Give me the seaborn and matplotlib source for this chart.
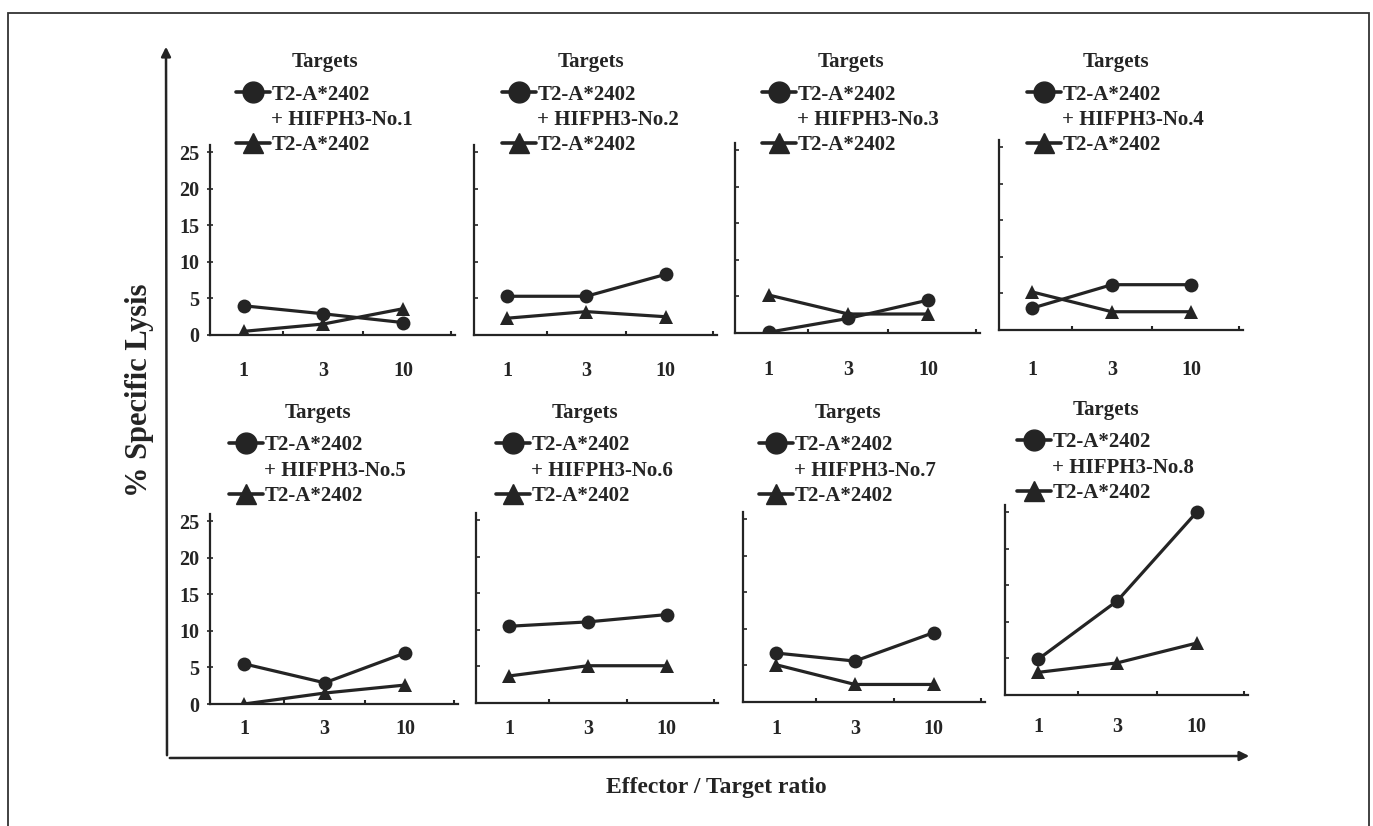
import matplotlib
matplotlib.use("Agg")
import matplotlib.pyplot as plt
from matplotlib.lines import Line2D
from matplotlib.patches import Rectangle, FancyArrowPatch
import seaborn as sns
import pandas as pd

sns.set_theme(style="white")
plt.rcParams['font.family'] = ['Liberation Serif', 'DejaVu Serif']
plt.rcParams['font.weight'] = 'bold'

# ---------------- data ----------------
ratios = ["1", "3", "10"]
peptides = ["HIFPH3-No.1", "HIFPH3-No.2", "HIFPH3-No.3", "HIFPH3-No.4",
            "HIFPH3-No.5", "HIFPH3-No.6", "HIFPH3-No.7", "HIFPH3-No.8"]
pulsed = [
    [4.0, 2.9, 1.7],
    [5.3, 5.3, 8.3],
    [0.1, 2.0, 4.5],
    [3.0, 6.2, 6.2],
    [5.5, 2.9, 7.0],
    [10.5, 11.1, 12.1],
    [6.7, 5.6, 9.5],
    [4.9, 12.9, 25.0],
]
unpulsed = [
    [0.5, 1.5, 3.6],
    [2.3, 3.2, 2.5],
    [5.2, 2.6, 2.6],
    [5.2, 2.5, 2.5],
    [0.0, 1.5, 2.6],
    [3.7, 5.1, 5.1],
    [5.1, 2.4, 2.4],
    [3.1, 4.4, 7.1],
]
yticks = [0, 5, 10, 15, 20, 25]
legend_title = "Targets"
cell_label = "T2-A*2402"
ylabel = "% Specific Lysis"
xlabel = "Effector / Target ratio"

# ---------------- layout (pixels) ----------------
W, H = 1373, 826
fig = plt.figure(figsize=(W / 100, H / 100), dpi=100)
fig.patch.set_facecolor("white")

def fx(x):
    return x / W

def fy(y):
    return 1 - y / H

# (left, right, baseline) of each panel
panels_px = [
    (210, 455, 335), (474, 717, 335), (735, 980, 333), (999, 1243, 330),
    (210, 458, 704), (476, 718, 703), (743, 985, 702), (1005, 1248, 695),
]
xlab_pad = [18.5, 18.5, 19.5, 21.5, 11, 11.5, 12, 15.5]
legend_px = [
    (236, 52), (502, 52), (762, 52), (1027, 52),
    (229, 403), (496, 403), (759, 403), (1017, 400),
]
plot_h = 190
ink = "#242424"
tick_fs = 14.5
leg_fs = 15

for i in range(8):
    l, r, b = panels_px[i]
    ax = fig.add_axes([fx(l), fy(b), fx(r - l), plot_h / H])
    ax.set_facecolor("none")
    df = pd.DataFrame({
        "ratio": ratios * 2,
        "lysis": pulsed[i] + unpulsed[i],
        "target": ["pulsed"] * 3 + ["unpulsed"] * 3,
    })
    sns.lineplot(data=df, x="ratio", y="lysis", hue="target", style="target",
                 markers={"pulsed": "o", "unpulsed": "^"},
                 dashes={"pulsed": "", "unpulsed": ""},
                 palette={"pulsed": ink, "unpulsed": ink},
                 markersize=10, linewidth=2.3, markeredgewidth=0,
                 sort=False, legend=False, ax=ax)
    ax.set_xlim(-0.42, 2.65)
    ax.set_ylim(0, 26)
    ax.set_xlabel("")
    ax.set_ylabel("")
    for s in ["top", "right"]:
        ax.spines[s].set_visible(False)
    for s in ["left", "bottom"]:
        ax.spines[s].set_color(ink)
        ax.spines[s].set_linewidth(1.6)
    ax.set_xticks([0, 1, 2])
    ax.set_xticklabels(ratios)
    ax.set_xticks([0.5, 1.5, 2.6], minor=True)
    ax.tick_params(axis="x", which="major", length=0, pad=xlab_pad[i],
                   labelsize=tick_fs, colors=ink)
    ax.tick_params(axis="x", which="minor", length=3, direction="in",
                   width=1.5, colors=ink, bottom=True)
    ax.set_yticks(yticks)
    if i in (0, 4):
        ax.set_yticklabels([str(t) for t in yticks])
        ax.tick_params(axis="y", length=5, direction="inout", width=1.2,
                       labelsize=tick_fs, colors=ink, pad=5, left=True)
    else:
        ax.set_yticklabels([])
        ax.tick_params(axis="y", length=3, direction="in", width=1.2,
                       colors=ink, left=True)
    for lab in ax.get_xticklabels() + ax.get_yticklabels():
        lab.set_fontweight("bold")
    ax.grid(False)

    handles = [
        Line2D([], [], color=ink, marker="o", markersize=15, linewidth=2.6),
        Line2D([], [], color="none"),
        Line2D([], [], color=ink, marker="^", markersize=15, linewidth=2.6),
    ]
    labels = [cell_label, "+ " + peptides[i], cell_label]
    lx, ly = legend_px[i]
    leg = fig.legend(handles, labels, title=legend_title, loc="upper left",
                     bbox_to_anchor=(fx(lx), fy(ly)),
                     bbox_transform=fig.transFigure, frameon=False,
                     fontsize=leg_fs, title_fontsize=leg_fs, handlelength=1.65,
                     handletextpad=0.05, labelspacing=0.25, borderpad=0,
                     borderaxespad=0)
    leg.get_title().set_fontweight("bold")
    leg._legend_box.sep = 9
    for t in leg.get_texts():
        t.set_fontweight("bold")
        t.set_color(ink)
    leg.get_title().set_color(ink)

# ---------------- overall frame, arrows, labels ----------------
fig.add_artist(Rectangle((fx(8), fy(830)), fx(1369 - 8), (830 - 13) / H,
                         transform=fig.transFigure, fill=False,
                         edgecolor="#333333", linewidth=1.3))
fig.add_artist(FancyArrowPatch(
    (fx(167), fy(758)), (fx(166), fy(44)), transform=fig.transFigure,
    arrowstyle="-|>", mutation_scale=14, color=ink, linewidth=1.8))
fig.add_artist(FancyArrowPatch(
    (fx(167), fy(758)), (fx(1252), fy(756)), transform=fig.transFigure,
    arrowstyle="-|>", mutation_scale=14, color=ink, linewidth=1.8))
fig.text(fx(140), fy(390), ylabel, rotation=90, ha="center", va="center",
         fontsize=22, fontweight="bold", color=ink)
fig.text(fx(716), fy(788), xlabel, ha="center", va="center",
         fontsize=17, fontweight="bold", color=ink)

fig.savefig("out.png", dpi=100, facecolor="white")
